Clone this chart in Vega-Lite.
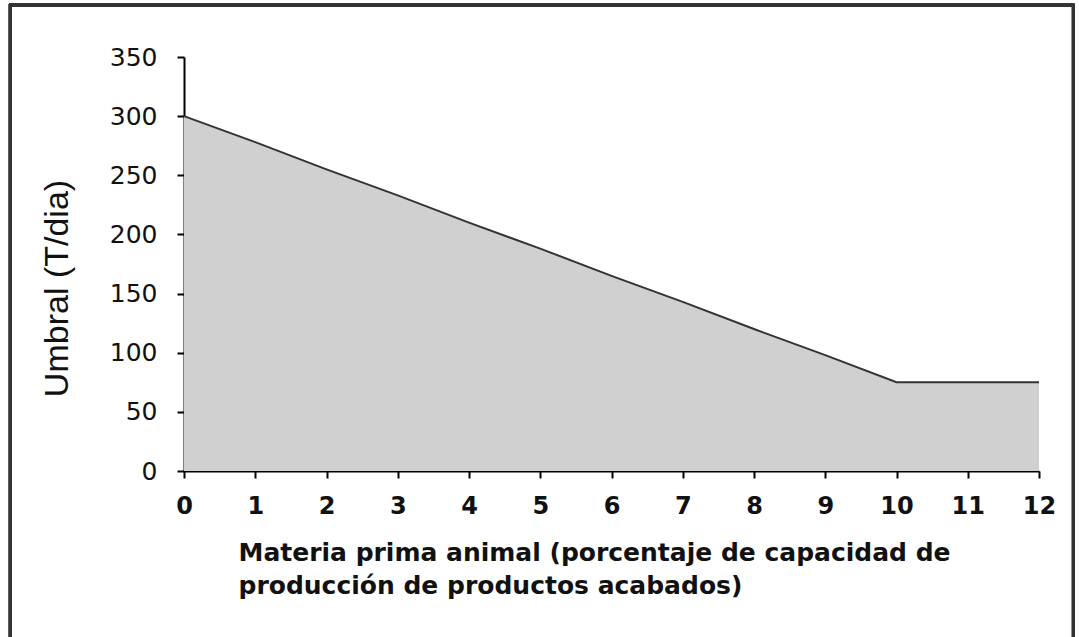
{
  "$schema": "https://vega.github.io/schema/vega-lite/v6.json",
  "width": 855,
  "height": 414,
  "autosize": {"type": "none"},
  "padding": {"left": 184, "top": 57, "right": 40, "bottom": 166},
  "background": "white",
  "config": {"view": {"stroke": null}},
  "data": {
    "values": [
      {"x": 0, "y": 300},
      {"x": 1, "y": 278},
      {"x": 2, "y": 255},
      {"x": 3, "y": 233},
      {"x": 4, "y": 210},
      {"x": 5, "y": 188},
      {"x": 6, "y": 165},
      {"x": 7, "y": 143},
      {"x": 8, "y": 120},
      {"x": 9, "y": 98},
      {"x": 10, "y": 75},
      {"x": 11, "y": 75},
      {"x": 12, "y": 75}
    ]
  },
  "layer": [
    {
      "mark": {"type": "rect", "fill": null, "stroke": "#333333", "strokeWidth": 2.5, "clip": false},
      "encoding": {
        "x": {"datum": -2.44, "type": "quantitative", "scale": {"domain": [0, 12], "nice": false}},
        "x2": {"datum": 12.48},
        "y": {"datum": 394, "type": "quantitative", "scale": {"domain": [0, 350], "nice": false}},
        "y2": {"datum": -160}
      }
    },
    {
      "mark": {"type": "area", "color": "#d0d0d0", "opacity": 1, "fillOpacity": 1, "line": {"color": "#333333", "strokeWidth": 2}},
      "encoding": {
        "x": {
          "field": "x",
          "type": "quantitative",
          "scale": {"domain": [0, 12], "nice": false},
          "axis": {
            "values": [0, 1, 2, 3, 4, 5, 6, 7, 8, 9, 10, 11, 12],
            "format": "d",
            "grid": false,
            "domainColor": "#000000",
            "domainWidth": 2,
            "domainOpacity": 1,
            "tickColor": "#000000",
            "tickWidth": 2,
            "tickOpacity": 1,
            "tickSize": 7,
            "labelFont": "DejaVu Sans",
            "labelFontWeight": "bold",
            "labelFontSize": 24,
            "labelColor": "#111111",
            "labelPadding": 16,
            "labelFlush": false,
            "title": ["Materia prima animal (porcentaje de capacidad de", "producción de productos acabados)"],
            "titleFont": "DejaVu Sans",
            "titleFontWeight": "bold",
            "titleFontSize": 25,
            "titleColor": "#111111",
            "titleAlign": "left",
            "titleAnchor": "start",
            "titleBaseline": "alphabetic",
            "titleX": 54,
            "titleY": 89,
            "titleLineHeight": 33
          }
        },
        "y": {
          "field": "y",
          "type": "quantitative",
          "scale": {"domain": [0, 350], "nice": false},
          "axis": {
            "values": [0, 50, 100, 150, 200, 250, 300, 350],
            "format": "d",
            "grid": false,
            "domainColor": "#000000",
            "domainWidth": 2,
            "domainOpacity": 1,
            "tickColor": "#000000",
            "tickWidth": 2,
            "tickOpacity": 1,
            "tickSize": 7,
            "labelFont": "DejaVu Sans",
            "labelFontSize": 25,
            "labelColor": "#111111",
            "labelPadding": 20,
            "labelFlush": false,
            "title": "Umbral (T/dia)",
            "titleFont": "Liberation Sans",
            "titleFontWeight": "normal",
            "titleFontSize": 34,
            "titleColor": "#111111",
            "titleAngle": -90,
            "titleAlign": "center",
            "titleBaseline": "alphabetic",
            "titleX": -117,
            "titleY": 231
          }
        }
      }
    }
  ]
}
